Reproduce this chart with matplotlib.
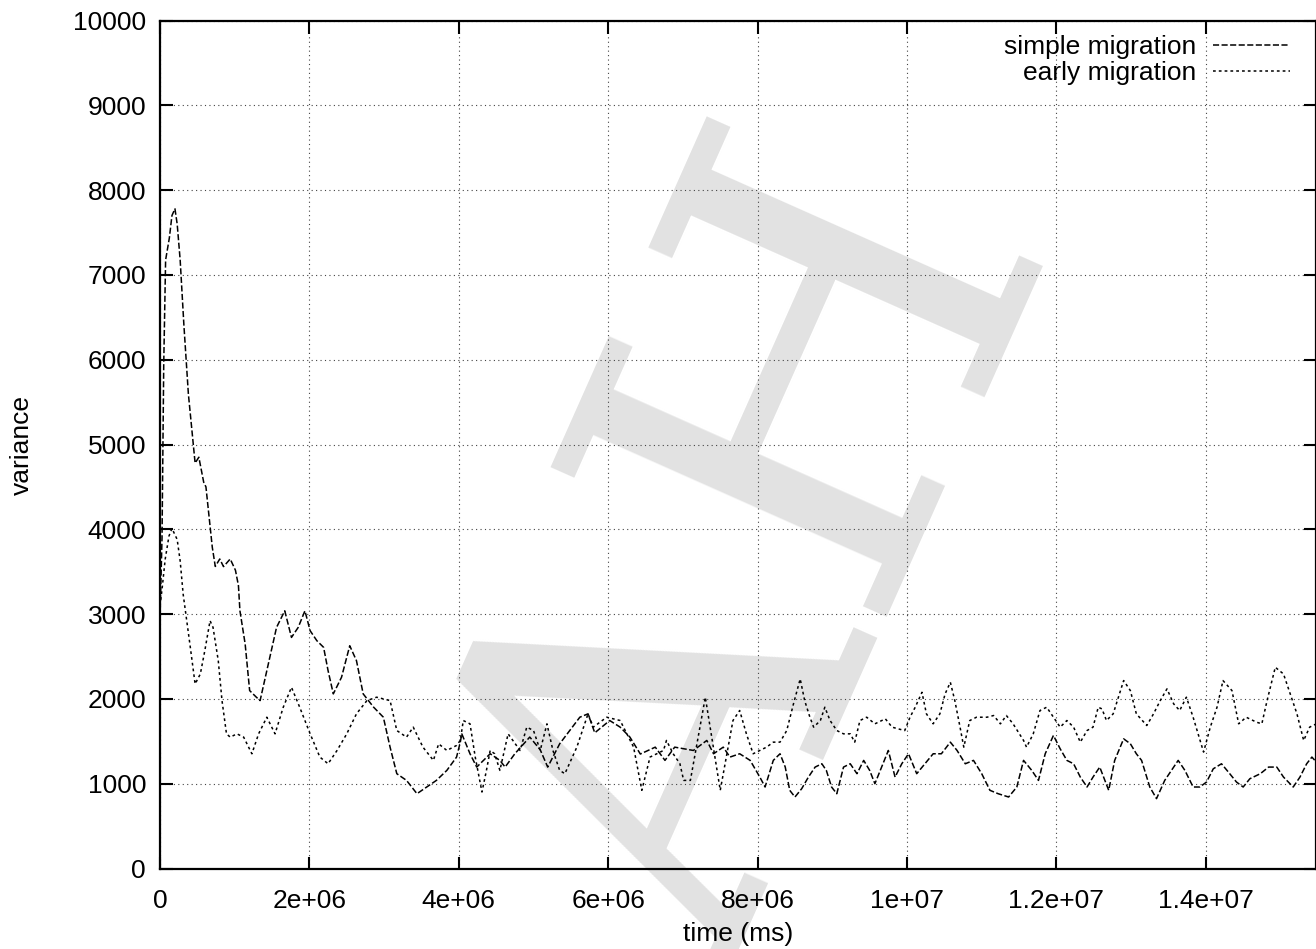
import numpy as np
import matplotlib
matplotlib.use("Agg")
import matplotlib.pyplot as plt

# ---------------- data (time in units of 1e6 ms, variance) ----------------
simple_t = [0.0, 0.027, 0.05, 0.075, 0.125, 0.16, 0.20, 0.23, 0.27, 0.32, 0.38, 0.45, 0.47,
            0.52, 0.585, 0.615, 0.70, 0.74, 0.80, 0.85, 0.94, 1.01, 1.05, 1.07, 1.14, 1.20,
            1.29, 1.34, 1.43, 1.56, 1.67, 1.76, 1.85, 1.94, 2.01, 2.10, 2.19, 2.25, 2.32,
            2.43, 2.54, 2.63, 2.72, 2.86, 2.99, 3.08, 3.17, 3.30, 3.44, 3.57, 3.70, 3.84,
            3.97, 4.02, 4.04, 4.15, 4.24, 4.42, 4.55, 4.62, 4.75, 4.95, 5.09, 5.19, 5.35,
            5.62, 5.73, 5.82, 6.02, 6.16, 6.29, 6.43, 6.63, 6.76, 6.89, 7.14, 7.32, 7.41,
            7.54, 7.63, 7.76, 7.90, 8.03, 8.10, 8.21, 8.30, 8.37, 8.43, 8.50, 8.59, 8.68,
            8.77, 8.86, 8.92, 8.99, 9.06, 9.15, 9.24, 9.33, 9.42, 9.50, 9.57, 9.66, 9.75,
            9.84, 9.93, 10.02, 10.13, 10.24, 10.35, 10.46, 10.58, 10.67, 10.78, 10.89,
            11.00, 11.11, 11.22, 11.36, 11.47, 11.56, 11.67, 11.76, 11.85, 11.96, 12.05,
            12.14, 12.23, 12.32, 12.41, 12.49, 12.58, 12.70, 12.78, 12.90, 12.99, 13.07,
            13.14, 13.25, 13.34, 13.45, 13.54, 13.63, 13.72, 13.83, 13.92, 14.01, 14.10,
            14.21, 14.32, 14.41, 14.50, 14.59, 14.73, 14.84, 14.95, 15.04, 15.17, 15.26,
            15.35, 15.42, 15.48]
simple_v = [2950, 3900, 5950, 7175, 7435, 7700, 7780, 7600, 7175, 6406, 5594, 4962, 4781,
            4850, 4555, 4500, 3788, 3562, 3650, 3560, 3650, 3517, 3336, 3039, 2647, 2098,
            2020, 1980, 2333, 2843, 3039, 2725, 2843, 3039, 2804, 2686, 2608, 2333, 2059,
            2255, 2627, 2451, 2059, 1902, 1784, 1431, 1118, 1039, 882, 961, 1039, 1157,
            1314, 1490, 1588, 1353, 1196, 1353, 1275, 1196, 1353, 1550, 1400, 1196, 1470,
            1784, 1824, 1600, 1745, 1667, 1550, 1350, 1431, 1275, 1431, 1392, 1510, 1353,
            1431, 1314, 1353, 1275, 1078, 961, 1275, 1353, 1196, 922, 843, 941, 1078,
            1196, 1235, 1157, 961, 882, 1196, 1235, 1118, 1275, 1157, 1000, 1196, 1392,
            1078, 1235, 1353, 1118, 1235, 1353, 1353, 1490, 1392, 1235, 1275,
            1118, 922, 882, 843, 961, 1275, 1157, 1039, 1353, 1569, 1412,
            1275, 1235, 1078, 961, 1078, 1196, 922, 1275, 1529, 1471, 1353,
            1275, 961, 824, 1039, 1157, 1275, 1157, 961, 961, 1020, 1176,
            1235, 1118, 1020, 961, 1059, 1118, 1196, 1196, 1078, 961, 1078,
            1235, 1314, 1255]

early_t = [0.0, 0.027, 0.07, 0.12, 0.16, 0.23, 0.27, 0.31, 0.40, 0.47, 0.54, 0.60, 0.67,
           0.71, 0.78, 0.83, 0.89, 0.94, 1.03, 1.12, 1.23, 1.32, 1.43, 1.54, 1.65, 1.76,
           1.87, 2.01, 2.14, 2.25, 2.37, 2.50, 2.63, 2.77, 2.90, 3.08, 3.17, 3.30, 3.39,
           3.52, 3.66, 3.73, 3.84, 3.97, 4.02, 4.06, 4.15, 4.22, 4.31, 4.37, 4.42, 4.48,
           4.55, 4.66, 4.82, 4.91, 5.00, 5.09, 5.18, 5.26, 5.35, 5.42, 5.58, 5.73, 5.80,
           5.98, 6.16, 6.34, 6.45, 6.56, 6.74, 6.78, 6.87, 6.96, 7.01, 7.10, 7.30, 7.50,
           7.67, 7.76, 7.85, 7.94, 8.03, 8.12, 8.21, 8.30, 8.39, 8.48, 8.57, 8.63, 8.70,
           8.75, 8.84, 8.90, 8.97, 9.06, 9.15, 9.24, 9.30, 9.37, 9.46, 9.57, 9.71, 9.80,
           9.88, 9.97, 10.04, 10.11, 10.20, 10.26, 10.35, 10.44, 10.51, 10.58, 10.64,
           10.71, 10.76, 10.84, 10.93, 11.07, 11.16, 11.25, 11.33, 11.42, 11.56, 11.60,
           11.69, 11.78, 11.87, 11.96, 12.05, 12.14, 12.23, 12.32, 12.41, 12.49, 12.56,
           12.61, 12.67, 12.76, 12.90, 12.99, 13.07, 13.21, 13.30, 13.39, 13.48, 13.57,
           13.65, 13.74, 13.83, 13.97, 14.06, 14.15, 14.23, 14.35, 14.44, 14.54, 14.68,
           14.75, 14.82, 14.93, 15.04, 15.13, 15.22, 15.31, 15.39, 15.48]
early_v = [3100, 3290, 3650, 3920, 4010, 3880, 3627, 3235, 2647, 2176, 2294, 2569, 2922,
           2843, 2451, 1980, 1588, 1549, 1588, 1549, 1353, 1588, 1784, 1588, 1902, 2137,
           1902, 1588, 1314, 1235, 1392, 1588, 1824, 1980, 2020, 1980, 1627, 1549, 1667,
           1431, 1275, 1470, 1392, 1451, 1510, 1745, 1706, 1314, 902, 1157, 1392, 1353,
           1157, 1588, 1392, 1667, 1627, 1392, 1706, 1392, 1157, 1118, 1431, 1824, 1667,
           1784, 1745, 1431, 922, 1314, 1392, 1510, 1353, 1235, 1039, 1039, 2020, 922,
           1745, 1863, 1588, 1353, 1392, 1431, 1490, 1490, 1627, 1941, 2235, 1980, 1784,
           1667, 1745, 1902, 1745, 1627, 1588, 1588, 1490, 1745, 1784, 1706, 1765, 1667,
           1647, 1627, 1784, 1902, 2078, 1824, 1706, 1824, 2059, 2196, 1980,
           1667, 1431, 1745, 1784, 1784, 1804, 1706, 1804, 1706, 1510, 1431,
           1588, 1863, 1902, 1784, 1667, 1745, 1667, 1490, 1627, 1667, 1902,
           1882, 1745, 1824, 2216, 2098, 1824, 1686, 1824, 1980, 2118, 1941,
           1863, 2020, 1784, 1373, 1667, 1902, 2216, 2098, 1706, 1784, 1725,
           1706, 1980, 2373, 2294, 2059, 1824, 1510, 1667, 1706]

x_ticks = [0, 2e6, 4e6, 6e6, 8e6, 1e7, 1.2e7, 1.4e7]
x_tick_labels = ["0", "2e+06", "4e+06", "6e+06", "8e+06", "1e+07", "1.2e+07", "1.4e+07"]
y_ticks = [0, 1000, 2000, 3000, 4000, 5000, 6000, 7000, 8000, 9000, 10000]
y_tick_labels = [str(v) for v in y_ticks]
series_labels = ["simple migration", "early migration"]

# ---------------- figure ----------------
W, H = 1316, 949
plt.rcParams['font.family'] = ['Liberation Sans', 'DejaVu Sans']
fig = plt.figure(figsize=(W / 100, H / 100), dpi=100)
ax = fig.add_axes([160 / W, 1 - 868.5 / H, (1316 - 160) / W, (868.5 - 20.5) / H])
ax.set_zorder(1)
ax.patch.set_alpha(0)

# watermark (behind the axes and all texts)
fig.text(766 / W, 1 - 553 / H, "AH", fontsize=363, color="#e2e2e2",
         family="DejaVu Serif", rotation=66, ha="center", va="center", zorder=-5)

ax.plot(np.array(simple_t) * 1e6, simple_v, color="black", lw=1.1,
        linestyle=(0, (4, 1.6)), label=series_labels[0], zorder=3)
ax.plot(np.array(early_t) * 1e6, early_v, color="black", lw=1.1,
        linestyle=(0, (1.8, 2.0)), label=series_labels[1], zorder=3)

ax.set_xlim(0, 1.5475e7)
ax.set_ylim(0, 10000)
ax.set_xticks(x_ticks)
ax.set_xticklabels(x_tick_labels)
ax.set_yticks(y_ticks)
ax.set_yticklabels(y_tick_labels)
ax.grid(True, color="#444444", linestyle=(0, (1, 3)), linewidth=0.8)
ax.tick_params(direction="in", length=9, width=1.5, labelsize=19,
               top=True, right=True)
ax.tick_params(axis="x", pad=14.5)
ax.tick_params(axis="y", pad=10)
for s in ax.spines.values():
    s.set_linewidth(1.6)

ax.set_xlabel("time (ms)", fontsize=19, labelpad=7)
ax.set_ylabel("variance", fontsize=19, labelpad=28)

leg = ax.legend(loc="upper right", frameon=False, markerfirst=False, fontsize=19,
                handlelength=2.9, handletextpad=0.65, labelspacing=0.08,
                borderaxespad=0.15, bbox_to_anchor=(0.99, 1.0))

fig.savefig("out.png", dpi=100)
